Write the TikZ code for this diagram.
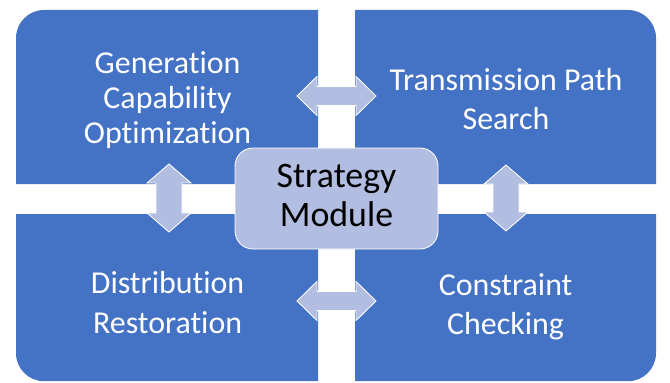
\documentclass[tikz,border=0pt]{standalone}
\usepackage{fontspec}
\setmainfont{Carlito}[Ligatures=NoCommon]
\usetikzlibrary{calc}
\definecolor{blockblue}{RGB}{68, 114, 196}
\definecolor{linkblue}{RGB}{178, 190, 225}

\tikzset{
  blockfill/.style={fill=blockblue},
  blocktext/.style={text=white, align=center, inner sep=0pt, font=\fontsize{22.7}{28}\selectfont},
  hub/.style={draw=white, line width=0.6pt, fill=linkblue, rounded corners=0.45cm,
              minimum width=5.075cm, minimum height=2.525cm, inner sep=0pt, align=center,
              font=\fontsize{25.5}{27.2}\selectfont},
  link/.style={fill=linkblue, draw=white, line width=0.6pt, line join=miter}
}

% double block arrow: tip, tip, head length, head half width, shaft half width
\newcommand{\linkarrow}[5]{%
  \filldraw[link] (#1)
    -- ($(#1)!#3cm!(#2)!#4cm!90:(#2)$)
    -- ($(#1)!#3cm!(#2)!#5cm!90:(#2)$)
    -- ($(#2)!#3cm!(#1)!#5cm!-90:(#1)$)
    -- ($(#2)!#3cm!(#1)!#4cm!-90:(#1)$)
    -- (#2)
    -- ($(#2)!#3cm!(#1)!#4cm!90:(#1)$)
    -- ($(#2)!#3cm!(#1)!#5cm!90:(#1)$)
    -- ($(#1)!#3cm!(#2)!#5cm!-90:(#2)$)
    -- ($(#1)!#3cm!(#2)!#4cm!-90:(#2)$)
    -- cycle;}

\begin{document}
\begin{tikzpicture}
  \useasboundingbox (0,0) rectangle (16.75,9.55);

  % four quarters
  \fill[blockfill] (0.40,4.95) -- (0.40,8.60) arc[start angle=180, end angle=90, radius=0.7]
        -- (7.95,9.30) -- (7.95,4.95) -- cycle;
  \fill[blockfill] (8.875,4.95) -- (8.875,9.30) -- (15.70,9.30) arc[start angle=90, end angle=0, radius=0.7]
        -- (16.40,4.95) -- cycle;
  \fill[blockfill] (0.40,4.20) -- (0.40,0.72) arc[start angle=180, end angle=270, radius=0.7]
        -- (7.95,0.02) -- (7.95,4.20) -- cycle;
  \fill[blockfill] (8.875,4.20) -- (16.40,4.20) -- (16.40,0.72) arc[start angle=0, end angle=-90, radius=0.7]
        -- (8.875,0.02) -- cycle;

  % arrow tips
  \coordinate (genE)   at (7.425,7.15);
  \coordinate (transW) at (9.40,7.15);
  \coordinate (distE)  at (7.425,2.025);
  \coordinate (consW)  at (9.40,2.025);
  \coordinate (genS)   at (4.225,5.45);
  \coordinate (distN)  at (4.225,3.75);
  \coordinate (transS) at (12.65,5.425);
  \coordinate (consN)  at (12.65,3.775);

  \linkarrow{genE}{transW}{0.5}{0.49}{0.24}
  \linkarrow{distE}{consW}{0.5}{0.49}{0.24}
  \linkarrow{genS}{distN}{0.475}{0.55}{0.325}
  \linkarrow{transS}{consN}{0.475}{0.55}{0.325}

  % labels
  \node[blocktext, font=\fontsize{22.7}{25}\selectfont] (gen) at (4.19,7.05) {Generation\\Capability\\Optimization};
  \node[blocktext] (trans) at (12.65,7.075) {Transmission Path\\Search};
  \node[blocktext] (dist) at (4.19,1.9875) {Distribution\\Restoration};
  \node[blocktext] (cons) at (12.64,1.8875) {Constraint\\Checking};

  \node[hub] (strategy) at (8.4125,4.5875) {Strategy\\Module\vphantom{g}};
\end{tikzpicture}
\end{document}
